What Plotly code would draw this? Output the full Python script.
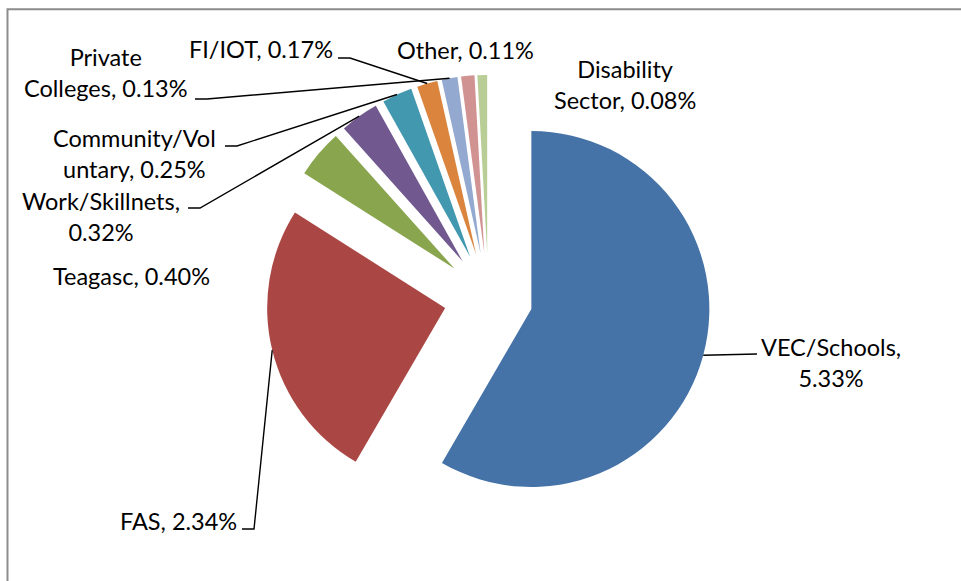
import math
import plotly.graph_objects as go

# ---- data ----
categories = ["VEC/Schools", "FAS", "Teagasc", "Work/Skillnets", "Community/Voluntary",
              "FI/IOT", "Private Colleges", "Other", "Disability Sector"]
values = [5.33, 2.34, 0.40, 0.32, 0.25, 0.17, 0.13, 0.11, 0.08]
label_texts = ["VEC/Schools,<br>5.33%", "FAS, 2.34%", "Teagasc, 0.40%",
               "Work/Skillnets,<br>0.32%", "Community/Vol<br>untary, 0.25%",
               "FI/IOT, 0.17%", "Private<br>Colleges, 0.13%", "Other, 0.11%",
               "Disability<br>Sector, 0.08%"]
colors = ["#4572A7", "#AA4643", "#89A54E", "#71588F", "#4198AF",
          "#DB843D", "#93A9CF", "#D19392", "#B9CD96"]

# ---- layout (pixels) ----
W, H = 961, 581
CENTER = (488.4, 297.4)
RADIUS = 178.0
PULL = 0.25
FONT = "Lato"
FONT_SIZE = 23.5

# label centre positions (px)
label_pos = [(831, 362), (178, 521), (131, 276), (101, 216), (134, 154),
             (261, 49), (106, 73), (465, 50), (625, 84)]
# leader line start + elbow (px); None = no leader line
leader = [[(757, 354)], [(242, 529), (254, 529)], None, [(188, 208), (200, 208)],
          [(225, 146), (237, 146)], [(338, 58), (350, 58)], [(195, 99), (207, 99)],
          None, None]

half = RADIUS * (1 + PULL)
dom_x = [(CENTER[0] - half) / W, (CENTER[0] + half) / W]
dom_y = [1 - (CENTER[1] + half) / H, 1 - (CENTER[1] - half) / H]

fig = go.Figure(go.Pie(
    labels=categories, values=values, sort=False, direction="clockwise", rotation=0,
    marker=dict(colors=colors, line=dict(width=0)), pull=[PULL] * len(values),
    textinfo="none", hoverinfo="label+value", showlegend=False,
    domain=dict(x=dom_x, y=dom_y)))

def px2paper(p):
    return p[0] / W, 1 - p[1] / H

total = sum(values)
shapes = []
cum = 0.0
for i, v in enumerate(values):
    a0 = cum / total * 2 * math.pi
    cum += v
    a1 = cum / total * 2 * math.pi
    mid = (a0 + a1) / 2
    ux, uy = math.sin(mid), -math.cos(mid)
    ax = CENTER[0] + ux * RADIUS * (1 + PULL)
    ay = CENTER[1] + uy * RADIUS * (1 + PULL)
    if leader[i]:
        pts = leader[i] + [(ax, ay)]
        path = "M " + " L ".join("%.5f,%.5f" % px2paper(p) for p in pts)
        shapes.append(dict(type="path", path=path, xref="paper", yref="paper",
                           line=dict(color="black", width=1.4)))

# chart area border (clipped by the image edges)
shapes.append(dict(type="rect", xref="paper", yref="paper",
                   x0=7.5 / W, x1=1.02, y0=-0.02, y1=1 - 9.3 / H,
                   line=dict(color="#8C8C8C", width=2)))

annotations = []
for txt, (x, y) in zip(label_texts, label_pos):
    px, py = px2paper((x, y))
    annotations.append(dict(text=txt, x=px, y=py, xref="paper", yref="paper",
                            xanchor="center", yanchor="middle", align="center",
                            showarrow=False, font=dict(family=FONT, size=FONT_SIZE, color="black")))

fig.update_layout(width=W, height=H, margin=dict(l=0, r=0, t=0, b=0),
                  paper_bgcolor="white", plot_bgcolor="white",
                  shapes=shapes, annotations=annotations)
fig.write_html("out.html", config={"displayModeBar": False},
               post_script="document.body.style.margin='0';document.body.style.overflow='hidden';")
